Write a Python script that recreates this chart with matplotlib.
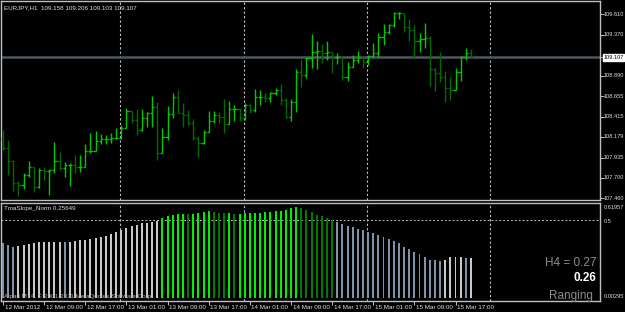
"""EURJPY H1 bar chart with TmaSlope_Norm histogram (MT4 style)."""

import numpy as np
import pandas as pd
import matplotlib
matplotlib.use("Agg")
import matplotlib.pyplot as plt

plt.rcParams["font.family"] = ["Liberation Sans", "DejaVu Sans"]

# EURJPY H1, 12-15 Mar 2012
start = "2012-03-12 01:00"
first_open = 108.150
high = [108.258, 108.141, 107.907, 107.662, 107.756, 107.896, 107.826, 107.814, 107.826, 107.802,
        108.118, 108.001, 107.884, 107.872, 107.966, 107.966, 108.094, 108.223, 108.246, 108.211,
        108.199, 108.223, 108.281, 108.316, 108.515, 108.480, 108.503, 108.503, 108.468, 108.655,
        108.585, 108.281, 108.538, 108.690, 108.725, 108.573, 108.492, 108.386, 108.188, 108.258,
        108.480, 108.480, 108.468, 108.620, 108.597, 108.550, 108.515, 108.573, 108.562, 108.737,
        108.725, 108.690, 108.702, 108.749, 108.795, 108.632, 108.620, 108.971, 109.088, 109.111,
        109.380, 109.298, 109.263, 109.298, 109.169, 109.158, 109.111, 109.052, 109.134, 109.181,
        109.111, 109.134, 109.275, 109.391, 109.497, 109.497, 109.637, 109.637, 109.625, 109.555,
        109.485, 109.391, 109.508, 109.356, 108.982, 109.169, 108.947, 108.877, 108.982, 109.123,
        109.216, 109.206]
low = [108.024, 107.732, 107.545, 107.487, 107.569, 107.709, 107.533, 107.580, 107.674, 107.498,
       107.756, 107.791, 107.709, 107.604, 107.756, 107.767, 107.820, 107.989, 108.010, 108.094,
       108.094, 108.106, 108.153, 108.153, 108.281, 108.340, 108.199, 108.246, 108.293, 108.293,
       107.907, 107.989, 108.141, 108.398, 108.457, 108.293, 108.316, 108.141, 107.942, 108.094,
       108.235, 108.340, 108.340, 108.223, 108.328, 108.363, 108.363, 108.375, 108.457, 108.468,
       108.550, 108.585, 108.585, 108.667, 108.550, 108.398, 108.363, 108.468, 108.760, 108.866,
       108.982, 108.971, 109.041, 109.076, 108.924, 109.029, 108.842, 108.831, 108.994, 109.041,
       108.982, 109.017, 109.111, 109.111, 109.251, 109.380, 109.462, 109.555, 109.403, 109.298,
       109.099, 109.169, 109.216, 108.772, 108.714, 108.819, 108.585, 108.608, 108.720, 108.831,
       109.076, 109.103]
close = [108.048, 107.896, 107.639, 107.615, 107.732, 107.826, 107.592, 107.791, 107.779, 107.791,
         107.896, 107.814, 107.849, 107.849, 107.826, 107.826, 108.013, 108.013, 108.129, 108.153,
         108.153, 108.164, 108.164, 108.281, 108.480, 108.375, 108.258, 108.398, 108.457, 108.527,
         107.989, 108.176, 108.445, 108.644, 108.457, 108.433, 108.340, 108.164, 108.106, 108.235,
         108.363, 108.433, 108.410, 108.328, 108.503, 108.503, 108.398, 108.550, 108.492, 108.644,
         108.644, 108.632, 108.690, 108.725, 108.608, 108.410, 108.585, 108.936, 108.901, 109.099,
         109.169, 109.181, 109.158, 109.169, 109.111, 109.111, 108.877, 108.994, 109.076, 109.111,
         109.052, 109.123, 109.158, 109.345, 109.403, 109.485, 109.625, 109.625, 109.462, 109.426,
         109.298, 109.321, 109.333, 108.971, 108.924, 108.877, 108.749, 108.725, 108.936, 109.111,
         109.158, 109.107]

# TmaSlope_Norm histogram
slope = [0.355, 0.340, 0.329, 0.333, 0.342, 0.346, 0.351, 0.357, 0.357, 0.361,
         0.361, 0.361, 0.359, 0.363, 0.368, 0.372, 0.376, 0.381, 0.385, 0.391,
         0.398, 0.411, 0.424, 0.437, 0.452, 0.464, 0.473, 0.480, 0.486, 0.490,
         0.495, 0.514, 0.531, 0.535, 0.540, 0.544, 0.538, 0.544, 0.550, 0.555,
         0.559, 0.553, 0.550, 0.548, 0.548, 0.544, 0.544, 0.548, 0.550, 0.550,
         0.550, 0.553, 0.557, 0.559, 0.559, 0.566, 0.578, 0.585, 0.581, 0.566,
         0.553, 0.535, 0.527, 0.518, 0.505, 0.488, 0.475, 0.462, 0.454, 0.445,
         0.437, 0.424, 0.415, 0.406, 0.394, 0.381, 0.368, 0.351, 0.329, 0.312,
         0.297, 0.282, 0.265, 0.247, 0.241, 0.239, 0.247, 0.260, 0.260, 0.260,
         0.256, 0.256]

price_ticks = ["109.610", "109.370", "109.107", "108.890", "108.655",
               "108.415", "108.179", "107.935", "107.700", "107.460"]
bid = 109.107
header = "EURJPY,H1  109.158 109.206 109.103 109.107"
ind_label = "TmaSlope_Norm 0.25649"
ind_ticks = ["0.61957", "0.5", "0.00295"]
h4_text = "H4 = 0.27"
now_text = "0.26"
state_text = "Ranging"

BG = "#000000"
FRAME = "#c0c0c0"
TXT = "#e0e0e0"
FS = 4.5      # chart texts
FS_AX = 4.1   # right scale labels

n = len(close)
idx = np.arange(n)
opens = np.array([first_open] + close[:-1])
close_a = np.array(close)
times = pd.date_range(start, periods=n, freq="h")
t0 = times[0]
days = pd.date_range("2012-03-13", "2012-03-16", freq="D")
seps = [(d - t0) / pd.Timedelta(hours=1) - 0.2 for d in days]

fig = plt.figure(figsize=(6.25, 3.12), dpi=100, facecolor=BG)
ax = fig.add_axes([1 / 625, 1 - 200 / 312, 599 / 625, 199 / 312], facecolor=BG)
ax2 = fig.add_axes([1 / 625, 1 - 301 / 312, 599 / 625, 98 / 312], facecolor=BG)

xlim = (-0.39, 116.1)
for a in (ax, ax2):
    a.set_xlim(*xlim)
    for s in a.spines.values():
        s.set_color(FRAME)
        s.set_linewidth(1.0)
    for x in seps:
        a.axvline(x, color=FRAME, lw=0.8, ls=(0, (2, 2)), zorder=1)

# price bars
up = close_a >= opens
bar_col = np.where(up, "#00c800", "#006a00")
ax.axhline(bid, color="#4c5860", lw=1.8, zorder=1)
ax.vlines(idx, low, high, colors=bar_col, lw=1.0, zorder=3)
ax.hlines(opens, idx - 0.42, idx, colors=bar_col, lw=1.0, zorder=3)
ax.hlines(close_a, idx, idx + 0.42, colors=bar_col, lw=1.0, zorder=3)
ax.set_ylim(107.440, 109.765)
ax.set_xticks([])
ax.yaxis.tick_right()
ax.set_yticks([float(t) for t in price_ticks])
ax.tick_params(axis="y", length=3, width=0.7, color=FRAME, labelright=False)
ytr = ax.get_yaxis_transform()
for t in price_ticks:
    if t == f"{bid:.3f}":
        ax.text(1.0055, float(t), t, transform=ytr, fontsize=FS_AX, color="black",
                va="center", ha="left",
                bbox=dict(boxstyle="square,pad=0.12", fc="white", ec="white"))
    else:
        ax.text(1.0055, float(t), t, transform=ytr, fontsize=FS_AX, color=TXT,
                va="center", ha="left")
ax.text(0.005, 0.965, header, transform=ax.transAxes, fontsize=FS, color=TXT,
        va="center", ha="left")

# indicator histogram
sl = np.array(slope)
rising = np.r_[False, sl[1:] >= sl[:-1]]
hist_col = np.where(sl >= 0.5, np.where(rising, "#00f000", "#007a00"),
                    np.where(rising, "#c8c8c8", "#7f93a8"))
ax2.bar(idx, sl, width=0.38, color=hist_col, zorder=3)
ax2.axhline(0.5, color=FRAME, lw=0.7, ls=(0, (2, 2)), zorder=1)
ax2.set_ylim(-0.021, 0.612)
ax2.set_yticks([])
for t, yy in zip(ind_ticks, [0.955, 0.815, 0.045]):
    ax2.text(1.0055, yy, t, transform=ax2.transAxes, fontsize=FS_AX, color=TXT,
             va="center", ha="left")
ax2.text(0.005, 0.945, ind_label, transform=ax2.transAxes, fontsize=FS, color=TXT,
         va="center", ha="left")
ax2.text(0.005, 0.05, "Alpari MT4, \u00a9 2001-2011 MetaQuotes Software Corp.",
         transform=ax2.transAxes, fontsize=FS, color="#b0b0b0", va="center", ha="left")
ax2.text(0.9935, 0.385, h4_text, transform=ax2.transAxes, fontsize=8.5, color="#8c8c8c",
         va="center", ha="right")
ax2.text(0.9935, 0.235, now_text, transform=ax2.transAxes, fontsize=8.5, color="white",
         fontweight="bold", va="center", ha="right")
ax2.text(0.9885, 0.055, state_text, transform=ax2.transAxes, fontsize=8.5, color="#8c8c8c",
         va="center", ha="right")

# time axis
tick_pos = idx[::8]
ax2.set_xticks(tick_pos)
ax2.tick_params(axis="x", length=3, width=0.7, color=FRAME, labelbottom=False)
xtr = ax2.get_xaxis_transform()
for p in tick_pos:
    lab = times[p].strftime("%d %b %Y") if p == 0 else times[p].strftime("%d %b %H:%M")
    ax2.text(p + 0.3, -0.065, lab, transform=xtr, fontsize=FS, color=TXT,
             va="center", ha="left")

fig.savefig("out.png", dpi=100, facecolor=BG)
